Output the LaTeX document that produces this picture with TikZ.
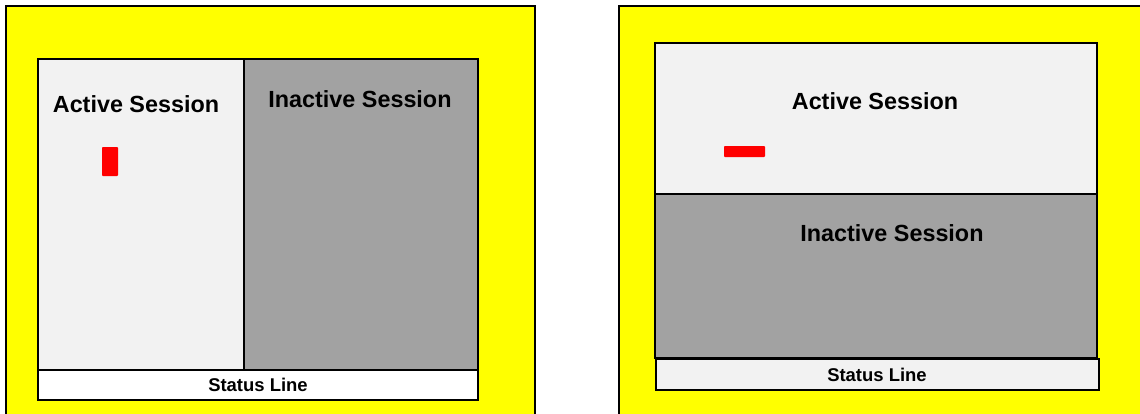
\documentclass[tikz,border=0pt]{standalone}
\usepackage{fontspec}
\setmainfont{Liberation Sans}
\definecolor{screenbg}{HTML}{FFFF00}
\definecolor{activefill}{HTML}{F2F2F2}
\definecolor{inactivefill}{HTML}{A2A2A2}
\definecolor{markred}{HTML}{FF0000}
\tikzset{
  screen/.style={draw=black, fill=screenbg, line width=0.6pt},
  activepane/.style={draw=black, fill=activefill, line width=0.6pt},
  inactivepane/.style={draw=black, fill=inactivefill, line width=0.6pt},
  statuspane/.style={draw=black, line width=1.2pt},
  cursormark/.style={fill=markred, rounded corners=0.5pt},
  panelabel/.style={font=\bfseries\fontsize{13.3}{15}\selectfont, inner sep=0pt},
  statuslabel/.style={font=\bfseries\fontsize{10.5}{12}\selectfont, inner sep=0pt},
}

\begin{document}
\begin{tikzpicture}[x=0.02cm, y=-0.02cm]
    \useasboundingbox (0,0) rectangle (1140,413);
    % side by side
    \draw[screen] (6,6) rectangle (535,425);
    \draw[activepane] (38,59) rectangle (244,370);
    \draw[inactivepane] (244,59) rectangle (478,370);
    \draw[statuspane, fill=white] (38,370) rectangle (478,400);
    \fill[cursormark] (102,147) rectangle (118,176);
    \node[panelabel] (lact) at (136,104) {Active Session};
    \node[panelabel] (linact) at (360,99) {Inactive Session};
    \node[statuslabel] (lstat) at (258,385) {Status Line};
    % stacked
    \draw[screen] (619,6) rectangle (1150,425);
    \draw[activepane] (655,43) rectangle (1097,194);
    \draw[inactivepane] (655,194) rectangle (1097,358);
    \draw[statuspane, fill=activefill] (656,359) rectangle (1099,390);
    \fill[cursormark] (724,146) rectangle (765,157);
    \node[panelabel] (ract) at (875,101) {Active Session};
    \node[panelabel] (rinact) at (892,233) {Inactive Session};
    \node[statuslabel] (rstat) at (877,375) {Status Line};
\end{tikzpicture}
\end{document}
